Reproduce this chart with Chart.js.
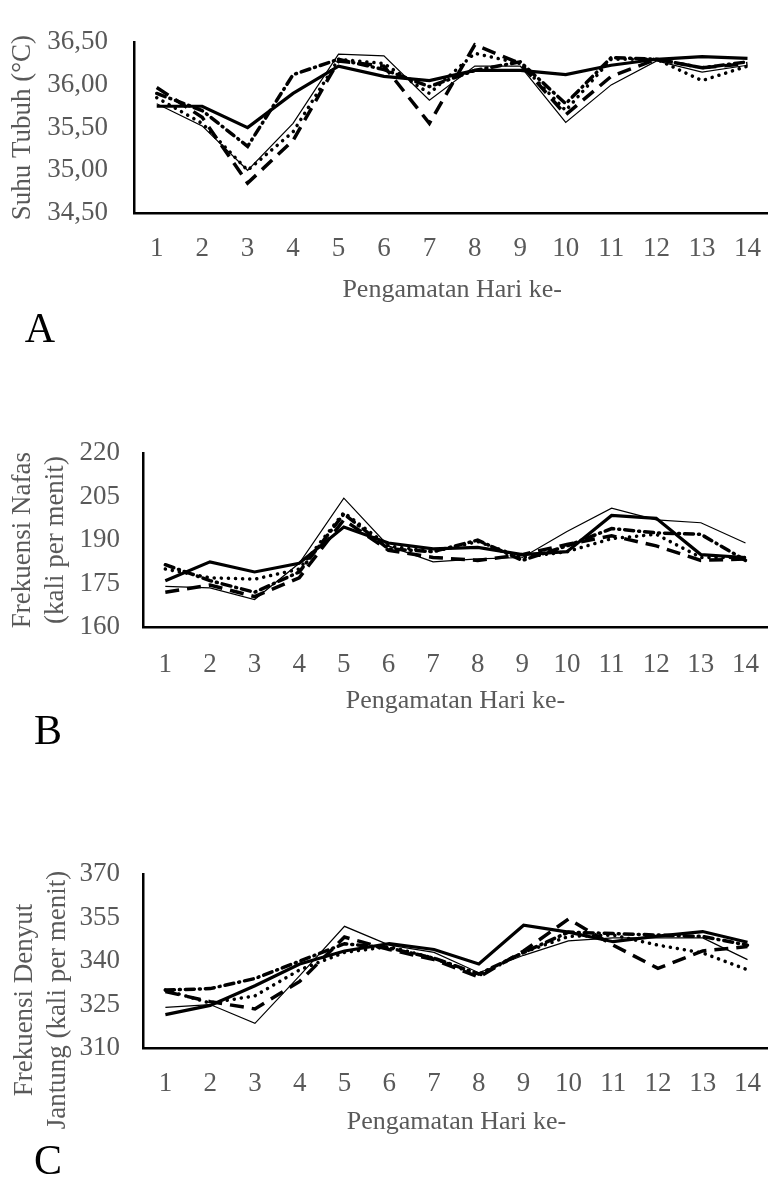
<!DOCTYPE html>
<html>
<head>
<meta charset="utf-8">
<script src="https://cdn.jsdelivr.net/npm/chart.js"></script>
<style>
  html, body { margin: 0; padding: 0; background: #fff; }
  body { width: 768px; height: 1177px; position: relative; overflow: hidden; font-family: "Liberation Serif", "DejaVu Serif", serif; }
  .panel { position: absolute; left: 0; width: 781px; }
  .letter { position: absolute; font-size: 42px; color: #000; line-height: 1; transform: translate(-50%, -50%); }
  .ytitle { position: absolute; width: 320px; height: 66px; line-height: 33px; font-size: 27px; color: #595959;
            text-align: center; transform: rotate(-90deg); white-space: nowrap; }
</style>
</head>
<body>

<div class="panel" id="pA" style="top:0"><canvas id="chartA" width="781" height="310"></canvas></div>
<div class="panel" id="pB" style="top:414px"><canvas id="chartB" width="781" height="310"></canvas></div>
<div class="panel" id="pC" style="top:835px"><canvas id="chartC" width="781" height="310"></canvas></div>

<!-- title of panel C sits lower than the plot centre in the reference -->
<div class="ytitle" style="left:-120px; top:967px">Frekuensi Denyut<br>Jantung (kali per menit)</div>

<div class="letter" style="left:40px; top:328px">A</div>
<div class="letter" style="left:48px; top:730px">B</div>
<div class="letter" style="left:48px; top:1160px">C</div>

<script>
  /* ---------- DATA ---------- */

  const days = ["1","2","3","4","5","6","7","8","9","10","11","12","13","14"];

  // A: Suhu Tubuh (°C)
  const suhuThin     = [35.78, 35.52, 35.00, 35.55, 36.36, 36.34, 35.82, 36.22, 36.22, 35.56, 36.00, 36.28, 36.15, 36.23];
  const suhuThick    = [35.75, 35.75, 35.50, 35.90, 36.22, 36.10, 36.05, 36.17, 36.17, 36.12, 36.23, 36.30, 36.33, 36.31];
  const suhuDot      = [35.85, 35.55, 35.00, 35.45, 36.30, 36.25, 35.90, 36.37, 36.25, 35.70, 36.30, 36.30, 36.05, 36.22];
  const suhuLongDash = [35.97, 35.62, 34.85, 35.35, 36.28, 36.22, 35.55, 36.47, 36.25, 35.65, 36.10, 36.30, 36.20, 36.25];
  const suhuDash     = [35.90, 35.70, 35.28, 36.12, 36.30, 36.18, 35.98, 36.17, 36.27, 35.78, 36.32, 36.30, 36.20, 36.27];

  // B: Frekuensi Nafas
  const nafasThin     = [174, 173.5, 169.5, 182, 204.5, 188, 182.5, 183.5, 184, 193, 201, 197, 196, 189];
  const nafasThick    = [176, 182.5, 179, 182, 194.5, 189, 187, 187.5, 185, 186, 198.5, 197.5, 185, 184];
  const nafasDot      = [180, 177, 176.5, 180, 199.5, 188, 186, 189.5, 184, 186, 190.5, 192, 184, 184];
  const nafasLongDash = [172, 174.5, 170.5, 177, 197, 186.5, 184, 183, 185, 188.5, 191.5, 188, 183, 183.5];
  const nafasDash     = [181.5, 176, 172, 179, 199, 187, 186, 190, 183, 188, 194, 192.5, 192, 183];

  // C: Frekuensi Denyut Jantung
  const jantungThin     = [324, 325, 318.5, 335, 352, 345.5, 343, 336, 342, 347, 348, 348, 348, 340.5];
  const jantungThick    = [321.5, 324.7, 331.5, 339, 343.5, 346, 344, 339, 352.4, 350, 346.7, 348.6, 350.2, 346.5];
  const jantungDot      = [330, 325.5, 328, 337, 343, 345, 341, 335, 343, 348.5, 349, 345.5, 342.8, 337];
  const jantungLongDash = [329.5, 326, 323.5, 333, 348.3, 344, 340.5, 334.5, 343.5, 354.5, 345.5, 337.5, 343.5, 345];
  const jantungDash     = [330, 330.5, 334, 340, 346, 344.5, 341, 335.5, 343, 350, 349.5, 349, 348.5, 345.5];

  const suhuTicks    = [34.5, 36.5, 0.5];
  const nafasTicks   = [160, 220, 15];
  const jantungTicks = [310, 370, 15];

  /* ---------- STYLES ---------- */

  const GREY = '#595959';
  const SERIF = '"Liberation Serif", "Times New Roman", serif';

  function lineSets(thin, thick, dot, longDash, dash) {
    const base = { borderColor: '#000', pointRadius: 0, tension: 0, fill: false };
    return [
      { ...base, label: 'thin', data: thin, borderWidth: 1.2 },
      { ...base, label: 'long dash', data: longDash, borderWidth: 3.5, borderDash: [14, 8] },
      { ...base, label: 'dash', data: dash, borderWidth: 3.5, borderDash: [9, 5, 1, 5], borderCapStyle: 'round' },
      { ...base, label: 'dot', data: dot, borderWidth: 3.5, borderDash: [0.1, 7], borderCapStyle: 'round' },
      { ...base, label: 'thick', data: thick, borderWidth: 3.2 }
    ];
  }

  function makeChart(id, sets, ticks, yTitle, opts) {
    return new Chart(document.getElementById(id), {
      type: 'line',
      data: { labels: days, datasets: sets },
      options: {
        responsive: false,
        animation: false,
        layout: { padding: { top: 25, right: 0, bottom: 0, left: 0 } },
        plugins: { legend: { display: false }, tooltip: { enabled: false } },
        scales: {
          x: {
            offset: true,
            grid: { display: false, drawTicks: false },
            border: { display: true, color: '#000', width: 2.5 },
            ticks: { color: GREY, font: { family: SERIF, size: 27 }, padding: opts.xPad, maxRotation: 0, autoSkip: false },
            title: { display: true, text: 'Pengamatan Hari ke-', color: GREY, font: { family: SERIF, size: 26 }, padding: { top: 0, bottom: opts.xTitlePad } },
            afterFit: s => { s.height = 97; }
          },
          y: {
            min: ticks[0],
            max: ticks[1],
            grid: { display: false, drawTicks: false },
            border: { display: true, color: '#000', width: 2.5 },
            ticks: {
              stepSize: ticks[2],
              color: GREY,
              font: { family: SERIF, size: 27 },
              padding: opts.yPad,
              callback: v => opts.comma ? v.toFixed(2).replace('.', ',') : v
            },
            title: { display: yTitle !== null, text: yTitle, color: GREY, font: { family: SERIF, size: 27, lineHeight: 1.22 }, padding: { top: 6.5, bottom: 0 } },
            afterFit: s => { s.width = opts.yWidth; }
          }
        }
      }
    });
  }

  makeChart('chartA', lineSets(suhuThin, suhuThick, suhuDot, suhuLongDash, suhuDash), suhuTicks,
    'Suhu Tubuh (°C)', { yWidth: 134, yPad: 26, xPad: 20, xTitlePad: 4, comma: true });

  makeChart('chartB', lineSets(nafasThin, nafasThick, nafasDot, nafasLongDash, nafasDash), nafasTicks,
    ['Frekuensi Nafas', '(kali per menit)'], { yWidth: 143, yPad: 23, xPad: 22, xTitlePad: 7, comma: false });

  makeChart('chartC', lineSets(jantungThin, jantungThick, jantungDot, jantungLongDash, jantungDash), jantungTicks,
    null, { yWidth: 143, yPad: 23, xPad: 20, xTitlePad: 7, comma: false });
</script>
</body>
</html>
